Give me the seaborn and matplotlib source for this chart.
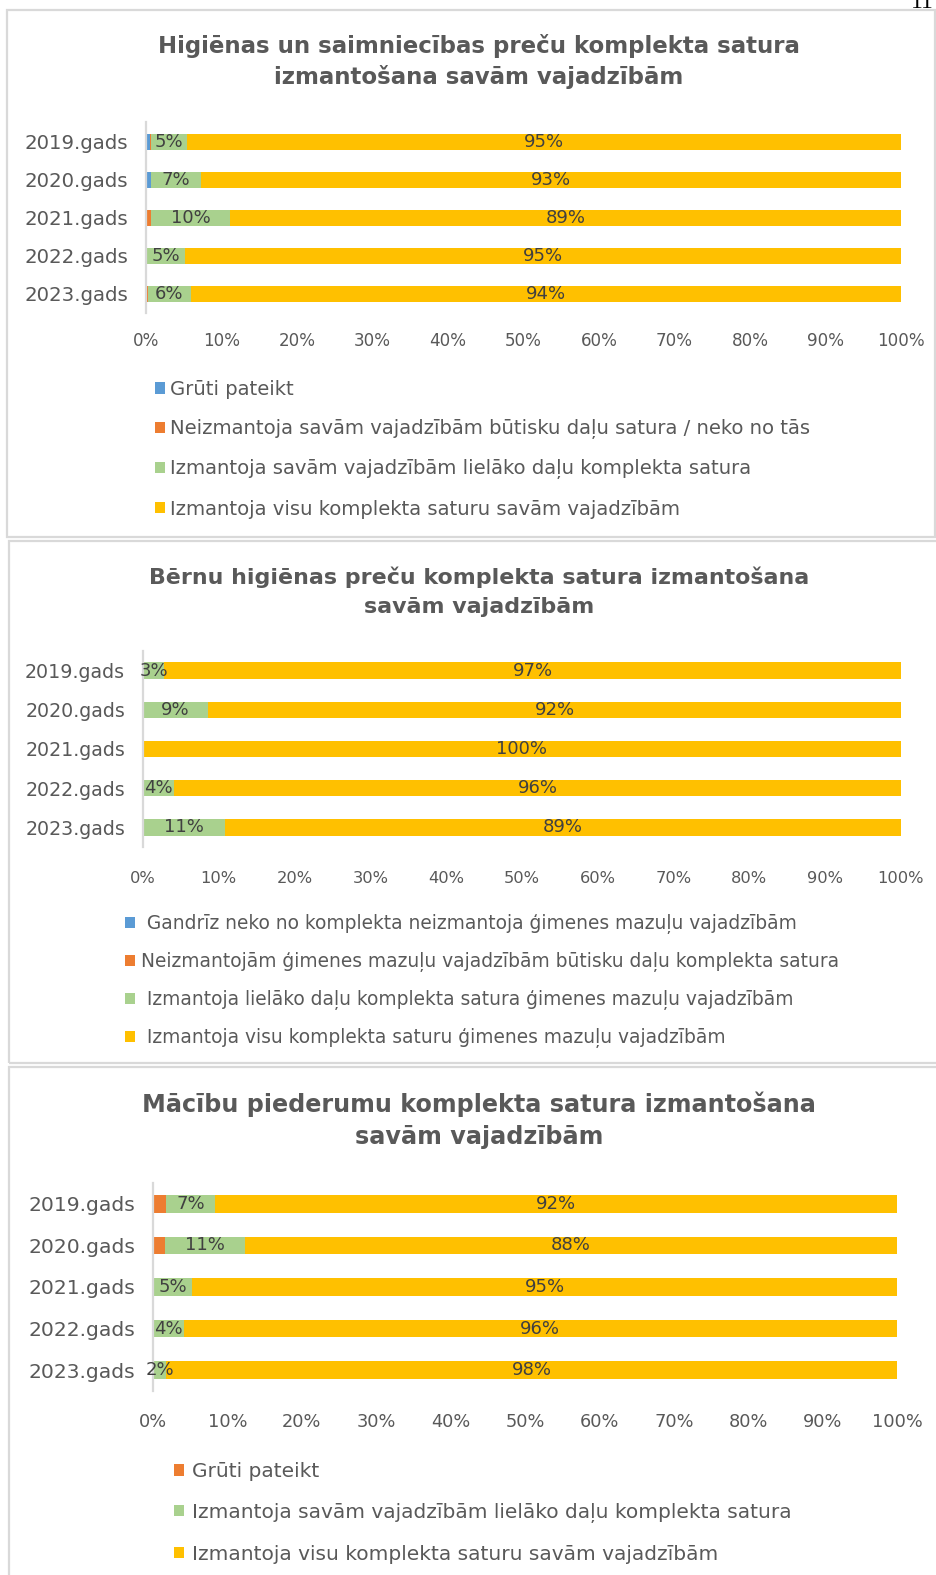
import numpy as np
import matplotlib
matplotlib.use("Agg")
import matplotlib.pyplot as plt
import seaborn as sns
from matplotlib.patches import Rectangle, Patch

sns.set_style("white")
plt.rcParams["font.family"] = ["DejaVu Sans"]

W, H = 937, 1575

years = ["2019.gads", "2020.gads", "2021.gads", "2022.gads", "2023.gads"]
colors = ["#5B9BD5", "#ED7D31", "#A9D18E", "#FFC000"]

# 1. Higiēnas un saimniecības preču komplekts
hig_labels = ["Grūti pateikt",
              "Neizmantoja savām vajadzībām būtisku daļu satura / neko no tās",
              "Izmantoja savām vajadzībām lielāko daļu komplekta satura",
              "Izmantoja visu komplekta saturu savām vajadzībām"]
hig_gruti = [0.5, 0.6, 0.0, 0.0, 0.0]
hig_neizm = [0.2, 0.0, 0.7, 0.0, 0.3]
hig_liel = [4.7, 6.7, 10.4, 5.2, 5.6]
hig_visu = [94.6, 92.7, 88.9, 94.8, 94.1]

# 2. Bērnu higiēnas preču komplekts
bern_labels = [" Gandrīz neko no komplekta neizmantoja ģimenes mazuļu vajadzībām",
               "Neizmantojām ģimenes mazuļu vajadzībām būtisku daļu komplekta satura",
               " Izmantoja lielāko daļu komplekta satura ģimenes mazuļu vajadzībām",
               " Izmantoja visu komplekta saturu ģimenes mazuļu vajadzībām"]
bern_gandriz = [0.0, 0.0, 0.0, 0.0, 0.0]
bern_neizm = [0.0, 0.0, 0.0, 0.0, 0.0]
bern_liel = [2.8, 8.6, 0.0, 4.1, 10.8]
bern_visu = [97.2, 91.6, 100.0, 95.9, 89.2]

# 3. Mācību piederumu komplekts
mac_labels = ["Grūti pateikt",
              "Izmantoja savām vajadzībām lielāko daļu komplekta satura",
              "Izmantoja visu komplekta saturu savām vajadzībām"]
mac_gruti = [1.8, 1.6, 0.0, 0.0, 0.0]
mac_liel = [6.6, 10.7, 5.3, 4.1, 1.8]
mac_visu = [91.6, 87.7, 94.7, 95.9, 98.2]

TXT = "#595959"
GRID = "#D9D9D9"

fig = plt.figure(figsize=(W / 100, H / 100), dpi=100)


def px_axes(x0, y0, x1, y1):
    return fig.add_axes([x0 / W, 1 - y1 / H, (x1 - x0) / W, (y1 - y0) / H])


def panel_box(x0, y0, x1, y1):
    fig.patches.append(Rectangle((x0 / W, 1 - y1 / H), (x1 - x0) / W, (y1 - y0) / H,
                                 transform=fig.transFigure, fill=False,
                                 edgecolor=GRID, linewidth=1.6))


def stacked(ax, parts, cols, ytick_size, xtick_size, xpad):
    parts = np.array(parts)
    cum = np.cumsum(parts, axis=0)
    for i in reversed(range(len(parts))):
        sns.barplot(x=cum[i], y=years, orient="h", color=cols[i], width=0.42,
                    saturation=1, errorbar=None, linewidth=0, ax=ax)
    # data labels on the two largest groups
    for i in range(len(parts) - 2, len(parts)):
        for j in range(len(years)):
            v = parts[i, j]
            if v > 0.5:
                ax.text(cum[i, j] - v / 2, j, f"{v:.0f}%", ha="center", va="center",
                        fontsize=13, color="#404040", clip_on=False)
    ax.set_xlim(0, 100)
    ax.set_ylim(4.5, -0.5)
    ax.set_xticks(range(0, 101, 10))
    ax.set_xticklabels([f"{t}%" for t in range(0, 101, 10)])
    ax.set_xlabel("")
    ax.set_ylabel("")
    for s in ["top", "right", "bottom"]:
        ax.spines[s].set_visible(False)
    ax.spines["left"].set_color(GRID)
    ax.spines["left"].set_linewidth(1.6)
    ax.tick_params(axis="y", length=0, pad=13, labelsize=ytick_size, labelcolor=TXT)
    ax.tick_params(axis="x", length=0, pad=xpad, labelsize=xtick_size, labelcolor=TXT)


def legend(labels, cols, x, top, size, spacing, textpad):
    fs = size / 0.72
    handles = [Patch(facecolor=c, edgecolor="none") for c in cols]
    fig.legend(handles, labels, loc="upper left", bbox_to_anchor=(x / W, 1 - top / H),
               frameon=False, fontsize=size, labelcolor=TXT, borderpad=0,
               borderaxespad=0, handlelength=10 / fs, handleheight=10 / fs,
               handletextpad=textpad / fs, labelspacing=spacing)


def title(lines, ys, size):
    for line, y in zip(lines, ys):
        fig.text(479 / W, 1 - y / H, line, ha="center", va="center",
                 fontsize=size, fontweight="bold", color=TXT)


# panel frames
panel_box(7, 10, 935, 537)
panel_box(9, 541, 950, 1063)
panel_box(9, 1067, 950, 1600)

fig.text(934 / W, 1 - 8 / H, "11", ha="right", va="baseline", fontsize=17,
         family="Liberation Serif", color="black")

# chart 1
title(["Higiēnas un saimniecības preču komplekta satura", "izmantošana savām vajadzībām"],
      [46.5, 77], 16.5)
ax1 = px_axes(146, 122.5, 901, 313)
stacked(ax1, [hig_gruti, hig_neizm, hig_liel, hig_visu], colors, 14.2, 12.1, 14)
legend(hig_labels, colors, 155, 380, 14.1, 1.03, 5)

# chart 2
title(["Bērnu higiēnas preču komplekta satura izmantošana", "savām vajadzībām"],
      [577, 607], 15.9)
ax2 = px_axes(143, 651, 901, 847)
stacked(ax2, [bern_gandriz, bern_neizm, bern_liel, bern_visu], colors, 13.7, 11.7, 17)
legend(bern_labels, colors, 125, 914, 13.4, 0.97, 6)

# chart 3
title(["Mācību piederumu komplekta satura izmantošana", "savām vajadzībām"],
      [1104, 1137], 17.2)
ax3 = px_axes(153, 1183, 897, 1391)
stacked(ax3, [mac_gruti, mac_liel, mac_visu], colors[1:], 14.6, 12.8, 15.5)
legend(mac_labels, colors[1:], 174, 1462, 14.5, 1.08, 8)

fig.savefig("out.png", dpi=100)
